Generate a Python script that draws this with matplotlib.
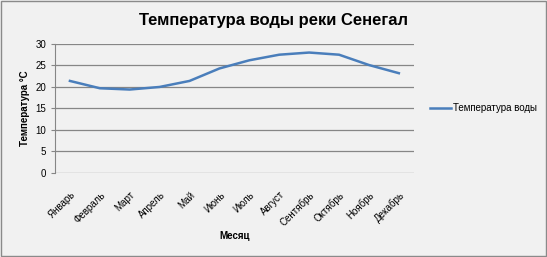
import matplotlib
matplotlib.use("Agg")
import matplotlib.pyplot as plt

months = ['Январь', 'Февраль', 'Март', 'Апрель', 'Май', 'Июнь',
          'Июль', 'Август', 'Сентябрь', 'Октябрь', 'Ноябрь', 'Декабрь']
water_temp = [21.4, 19.7, 19.4, 20.0, 21.4, 24.3, 26.2, 27.5, 28.0, 27.5, 25.1, 23.2]

plt.rcParams['font.family'] = ['Liberation Sans', 'DejaVu Sans']

fig = plt.figure(figsize=(5.47, 2.57), dpi=100, facecolor='#f1f1f1')
ax = fig.add_axes([0.1005, 0.327, 0.656, 0.502])
ax.set_facecolor('#f1f1f1')

x = range(len(months))
ax.plot(x, water_temp, color='#4a7ebb', linewidth=1.8, label='Температура воды')

ax.set_xlim(-0.5, len(months) - 0.5)
ax.set_ylim(0, 30)
ax.set_yticks(range(0, 31, 5))
ax.set_xticks(list(x))
ax.set_xticklabels(months, rotation=45, ha='right', rotation_mode='anchor', fontsize=7)
ax.tick_params(axis='y', labelsize=7, length=3, color='#868686')
ax.tick_params(axis='x', length=0, pad=12)
ax.grid(axis='y', color='#868686', linewidth=0.9)
ax.set_axisbelow(True)
for side in ['top', 'right']:
    ax.spines[side].set_visible(False)
ax.spines['bottom'].set_visible(False)
ax.spines['left'].set_color('#868686')

ax.set_xlabel('Месяц', fontsize=7, fontweight='bold', labelpad=2)
ax.set_ylabel('Температура °C', fontsize=7, fontweight='bold', labelpad=4)
fig.text(0.5, 0.92, 'Температура воды реки Сенегал', ha='center', va='center',
         fontsize=12, fontweight='bold')

ax.legend(loc='center left', bbox_to_anchor=(1.02, 0.5), frameon=False,
          fontsize=7, handlelength=2.2, handletextpad=0.2)

fig.patches.append(plt.Rectangle((0.002, 0.004), 0.996, 0.992, transform=fig.transFigure,
                                 fill=False, edgecolor='#8a8a8a', linewidth=1))
fig.savefig('out.png', dpi=100, facecolor=fig.get_facecolor())
